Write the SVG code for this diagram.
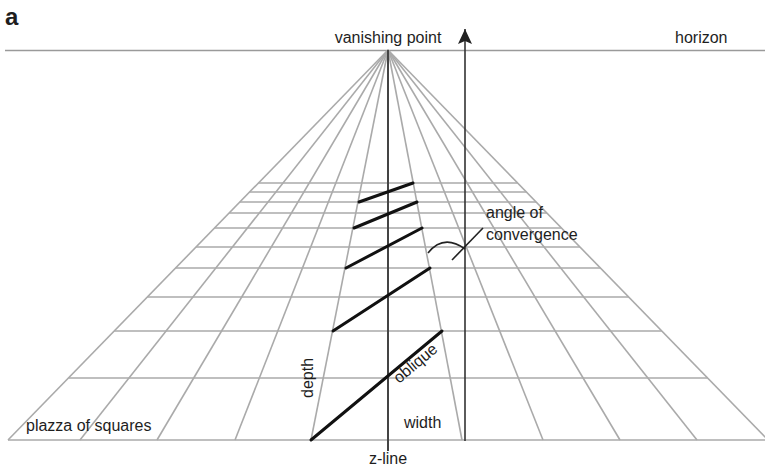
<svg xmlns="http://www.w3.org/2000/svg" width="765" height="466" viewBox="0 0 765 466">
<defs>
<style>
.t{font-family:"Liberation Sans",Arial,Helvetica,sans-serif;font-size:16px;fill:#1e1e1e}
.g{stroke:#aaaaaa;stroke-width:1.6;fill:none}
.ob{stroke:#111;stroke-width:3;stroke-linecap:round}
</style>
<marker id="ah" viewBox="0 0 15 14" refX="15" refY="7" markerWidth="15" markerHeight="14" markerUnits="userSpaceOnUse" orient="auto">
<path d="M15,7 L0,0 L3,7 L0,14 Z" fill="#222"/>
</marker>
</defs>
<rect width="765" height="466" fill="#fff"/>
<text class="t" x="5" y="25" style="font-size:24px;font-weight:bold">a</text>
<g id="horizon">
<line x1="5" y1="50.5" x2="765" y2="50.5" stroke="#9a9a9a" stroke-width="1.6"/>
<text class="t" x="675" y="43">horizon</text>
</g>
<g id="grid">
<line class="g" x1="388" y1="50" x2="8" y2="440"/>
<line class="g" x1="388" y1="50" x2="80" y2="440"/>
<line class="g" x1="388" y1="50" x2="157" y2="440"/>
<line class="g" x1="388" y1="50" x2="235" y2="440"/>
<line class="g" x1="388" y1="50" x2="311" y2="440"/>
<line class="g" x1="388" y1="50" x2="462" y2="440"/>
<line class="g" x1="388" y1="50" x2="543" y2="440"/>
<line class="g" x1="388" y1="50" x2="620" y2="440"/>
<line class="g" x1="388" y1="50" x2="697" y2="440"/>
<line class="g" x1="388" y1="50" x2="768" y2="440"/>
<line class="g" x1="8" y1="440" x2="765" y2="440"/>
<line class="g" x1="68.4" y1="378" x2="707.6" y2="378"/>
<line class="g" x1="114.2" y1="331" x2="661.8" y2="331"/>
<line class="g" x1="147.3" y1="297" x2="628.7" y2="297"/>
<line class="g" x1="175.6" y1="268" x2="600.4" y2="268"/>
<line class="g" x1="196.1" y1="247" x2="579.9" y2="247"/>
<line class="g" x1="214.6" y1="228" x2="561.4" y2="228"/>
<line class="g" x1="229.2" y1="213" x2="546.8" y2="213"/>
<line class="g" x1="239.9" y1="202" x2="536.1" y2="202"/>
<line class="g" x1="249.6" y1="192" x2="526.4" y2="192"/>
<line class="g" x1="258.4" y1="183" x2="517.6" y2="183"/>
</g>
<g id="z-line">
<line x1="388" y1="50" x2="388" y2="451" stroke="#444" stroke-width="2"/>
<text class="t" x="388" y="464" text-anchor="middle">z-line</text>
</g>
<g id="vanishing-point">
<text class="t" x="388" y="43" text-anchor="middle">vanishing point</text>
</g>
<g id="connectors">
<line x1="465" y1="441" x2="465" y2="29" stroke="#333" stroke-width="1.6" marker-end="url(#ah)"/>
</g>
<g id="obliques">
<line class="ob" x1="311" y1="440" x2="442" y2="331"/>
<line class="ob" x1="333" y1="331" x2="430" y2="268"/>
<line class="ob" x1="346" y1="268" x2="422" y2="228"/>
<line class="ob" x1="354" y1="228" x2="417" y2="202"/>
<line class="ob" x1="359" y1="202" x2="413" y2="183"/>
</g>
<g id="angle-of-convergence">
<path d="M428,253 Q443.5,233.6 465,249" fill="none" stroke="#222" stroke-width="1.6"/>
<line x1="452" y1="260" x2="483" y2="228" stroke="#222" stroke-width="1.6"/>
<text class="t" x="486" y="218">angle of</text>
<text class="t" x="486" y="240">convergence</text>
</g>
<g id="labels">
<text class="t" x="26" y="431">plazza of squares</text>
<text class="t" x="404" y="428">width</text>
<text class="t" transform="translate(313,398) rotate(-90)">depth</text>
<text class="t" transform="translate(399,384) rotate(-40)">oblique</text>
</g>
</svg>
